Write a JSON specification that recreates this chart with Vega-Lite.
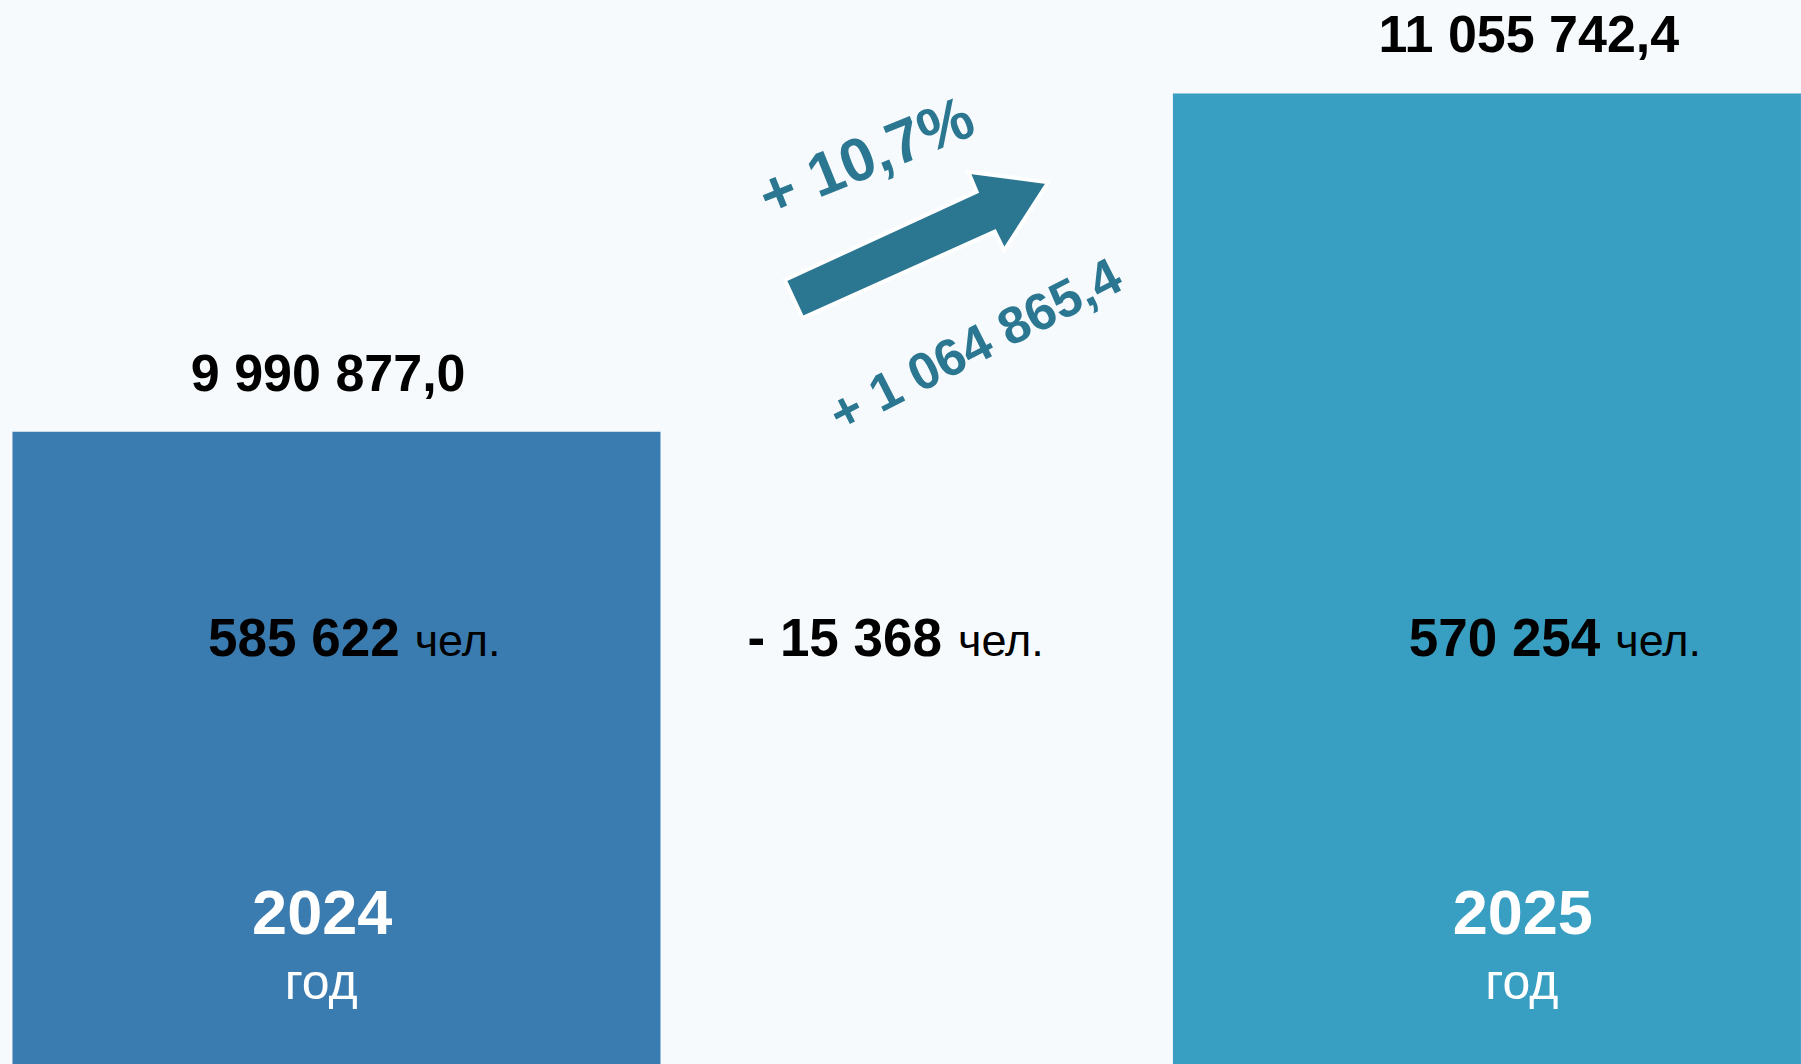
{
  "$schema": "https://vega.github.io/schema/vega-lite/v6.json",
  "width": 1801,
  "height": 1064,
  "autosize": {"type": "none"},
  "padding": 0,
  "background": "#f6fafc",
  "config": {"view": {"stroke": null}, "font": "Liberation Sans"},
  "datasets": {
    "years": [
      {"period": "2024", "budget": 9990877.0, "budget_label": "9 990 877,0", "people": 585622, "people_label": "585 622", "unit": "чел.", "year_word": "год"},
      {"period": "2025", "budget": 11055742.4, "budget_label": "11 055 742,4", "people": 570254, "people_label": "570 254", "unit": "чел.", "year_word": "год"}
    ],
    "change": [
      {"period": "изменение", "budget_change": 1064865.4, "budget_change_label": "+ 1 064 865,4", "pct_label": "+ 10,7%", "people_change": -15368, "people_change_label": "- 15 368", "unit": "чел."}
    ]
  },
  "encoding": {
    "x": {"field": "period", "type": "nominal", "scale": {"domain": ["2024", "изменение", "2025"], "paddingInner": 0, "paddingOuter": 0}, "axis": null}
  },
  "layer": [
    {
      "data": {"name": "years"},
      "transform": [{"filter": "datum.period == '2024'"}],
      "mark": {"type": "bar", "width": 648, "xOffset": 36.3},
      "encoding": {
        "y": {"field": "budget", "type": "quantitative", "scale": {"domain": [8000000, 11350000], "zero": false, "nice": false}, "axis": null},
        "y2": {"datum": 8000000},
        "color": {"field": "period", "type": "nominal", "scale": {"domain": ["2024", "2025"], "range": ["#3a7bb0", "#389ec2"]}, "legend": null}
      }
    },
    {
      "data": {"name": "years"},
      "transform": [{"filter": "datum.period == '2025'"}],
      "mark": {"type": "bar", "width": 628, "xOffset": -13.9},
      "encoding": {
        "y": {"field": "budget", "type": "quantitative", "scale": {"domain": [8000000, 11350000], "zero": false, "nice": false}, "axis": null},
        "y2": {"datum": 8000000},
        "color": {"field": "period", "type": "nominal", "scale": {"domain": ["2024", "2025"], "range": ["#3a7bb0", "#389ec2"]}, "legend": null}
      }
    },
    {
      "data": {"name": "years"},
      "mark": {"type": "text", "fontSize": 52, "fontWeight": "bold", "color": "#000000", "align": "center", "baseline": "alphabetic", "xOffset": 28, "yOffset": -41},
      "encoding": {
        "y": {"field": "budget", "type": "quantitative", "scale": {"domain": [8000000, 11350000], "zero": false, "nice": false}, "axis": null},
        "text": {"field": "budget_label"}
      }
    },
    {
      "data": {"name": "years"},
      "mark": {"type": "text", "fontSize": 53, "fontWeight": "bold", "color": "#000000", "align": "right", "baseline": "alphabetic", "xOffset": 99.5, "yOffset": -408},
      "encoding": {
        "y": {"datum": 8000000, "type": "quantitative", "scale": {"domain": [8000000, 11350000], "zero": false, "nice": false}, "axis": null},
        "text": {"field": "people_label"}
      }
    },
    {
      "data": {"name": "years"},
      "mark": {"type": "text", "fontSize": 45, "fontWeight": "normal", "color": "#000000", "align": "left", "baseline": "alphabetic", "xOffset": 114.5, "yOffset": -408},
      "encoding": {
        "y": {"datum": 8000000, "type": "quantitative", "scale": {"domain": [8000000, 11350000], "zero": false, "nice": false}, "axis": null},
        "text": {"field": "unit"}
      }
    },
    {
      "data": {"name": "years"},
      "mark": {"type": "text", "fontSize": 63, "fontWeight": "bold", "color": "#ffffff", "align": "center", "baseline": "alphabetic", "xOffset": 22, "yOffset": -130.5},
      "encoding": {
        "y": {"datum": 8000000, "type": "quantitative", "scale": {"domain": [8000000, 11350000], "zero": false, "nice": false}, "axis": null},
        "text": {"field": "period"}
      }
    },
    {
      "data": {"name": "years"},
      "mark": {"type": "text", "fontSize": 50, "fontWeight": "normal", "color": "#ffffff", "align": "center", "baseline": "alphabetic", "xOffset": 21, "yOffset": -65},
      "encoding": {
        "y": {"datum": 8000000, "type": "quantitative", "scale": {"domain": [8000000, 11350000], "zero": false, "nice": false}, "axis": null},
        "text": {"field": "year_word"}
      }
    },
    {
      "data": {"name": "change"},
      "mark": {"type": "text", "fontSize": 53, "fontWeight": "bold", "color": "#000000", "align": "right", "baseline": "alphabetic", "xOffset": 41.5, "yOffset": -408},
      "encoding": {
        "y": {"datum": 8000000, "type": "quantitative", "scale": {"domain": [8000000, 11350000], "zero": false, "nice": false}, "axis": null},
        "text": {"field": "people_change_label"}
      }
    },
    {
      "data": {"name": "change"},
      "mark": {"type": "text", "fontSize": 45, "fontWeight": "normal", "color": "#000000", "align": "left", "baseline": "alphabetic", "xOffset": 57.5, "yOffset": -408},
      "encoding": {
        "y": {"datum": 8000000, "type": "quantitative", "scale": {"domain": [8000000, 11350000], "zero": false, "nice": false}, "axis": null},
        "text": {"field": "unit"}
      }
    },
    {
      "data": {"name": "change"},
      "mark": {"type": "point", "shape": "M-0.864,0.553 L-0.998,0.265 L0.455,-0.404 L0.392,-0.555 L0.998,-0.475 L0.664,0.043 L0.593,-0.101 Z", "size": 69696, "filled": true, "fill": "#2b7791", "stroke": "#ffffff", "strokeWidth": 4, "opacity": 1, "fillOpacity": 1, "strokeOpacity": 1, "xOffset": 16, "yOffset": -819},
      "encoding": {
        "y": {"datum": 8000000, "type": "quantitative", "scale": {"domain": [8000000, 11350000], "zero": false, "nice": false}, "axis": null}
      }
    },
    {
      "data": {"name": "change"},
      "mark": {"type": "text", "fontSize": 61, "fontWeight": "bold", "color": "#2b7791", "align": "center", "baseline": "middle", "angle": -22, "xOffset": -33.5, "yOffset": -905},
      "encoding": {
        "y": {"datum": 8000000, "type": "quantitative", "scale": {"domain": [8000000, 11350000], "zero": false, "nice": false}, "axis": null},
        "text": {"field": "pct_label"}
      }
    },
    {
      "data": {"name": "change"},
      "mark": {"type": "text", "fontSize": 52, "fontWeight": "bold", "color": "#2b7791", "align": "center", "baseline": "middle", "angle": -27, "xOffset": 75.3, "yOffset": -717.5},
      "encoding": {
        "y": {"datum": 8000000, "type": "quantitative", "scale": {"domain": [8000000, 11350000], "zero": false, "nice": false}, "axis": null},
        "text": {"field": "budget_change_label"}
      }
    }
  ]
}
